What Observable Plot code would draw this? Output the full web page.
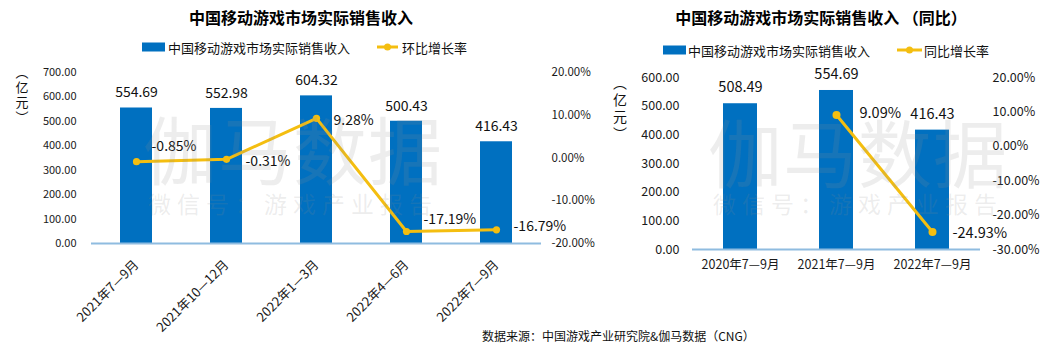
<!DOCTYPE html>
<html><head><meta charset="utf-8">
<script src="https://cdn.jsdelivr.net/npm/d3@7"></script>
<script src="https://cdn.jsdelivr.net/npm/@observablehq/plot@0.6"></script>
<style>
body{margin:0;background:#fff;font-family:"Noto Sans CJK SC","Noto Sans",sans-serif;color:#111;}
#root{position:relative;width:1058px;height:362px;overflow:hidden;}
.abs{position:absolute;white-space:nowrap;}
.title{font-weight:bold;font-size:16px;line-height:16px;transform:translate(-50%,-50%);color:#000;}
.lg{font-size:13px;line-height:13px;transform:translateY(-50%);}
.sw{position:absolute;background:#0070C0;height:9px;transform:translateY(-50%);}
.unit{text-align:center;transform:translate(-50%,0);white-space:pre;}
.wm{color:rgba(140,140,140,0.16);pointer-events:none;transform:translate(-50%,-50%);}
.wm1{font-size:74px;line-height:74px;letter-spacing:1px;}
.wm2{font-size:23px;line-height:23px;letter-spacing:6px;}
</style></head>
<body><div id="root"></div>
<script>
// ---- data ----
const categoriesQ = ["2021年7—9月","2021年10—12月","2022年1—3月","2022年4—6月","2022年7—9月"];
const revenueQ = [554.69, 552.98, 604.32, 500.43, 416.43];
const growthQoQ = [-0.85, -0.31, 9.28, -17.19, -16.79];
const revTicksQ = [0,100,200,300,400,500,600,700];
const pctTicksQ = [-20,-10,0,10,20];

const categoriesY = ["2020年7—9月","2021年7—9月","2022年7—9月"];
const revenueY = [508.49, 554.69, 416.43];
const growthYoY = [null, 9.09, -24.93];
const revTicksY = [0,100,200,300,400,500,600];
const pctTicksY = [-30,-20,-10,0,10,20];

const titleQ = "中国移动游戏市场实际销售收入";
const titleY = "中国移动游戏市场实际销售收入 （同比）";
const seriesBar = "中国移动游戏市场实际销售收入";
const seriesQoQ = "环比增长率";
const seriesYoY = "同比增长率";
const unitLabel = "（亿元）";
const source = "数据来源：中国游戏产业研究院&伽马数据（CNG）";
const wmMain = "伽马数据";
const wmSub = "微信号：游戏产业报告";

// ---- styles / layout (not data) ----
const BLUE = "#0070C0", GOLD = "#F4BE10", AXIS = "#8FBCE0";
const FONT = '"Noto Sans CJK SC","Noto Sans",sans-serif';
const qoqDx = [15, 19, 17, 17, 17], qoqDy = [-15, 2, 2, -12, -3];
const yoyDx = [0, 23, 20], yoyDy = [0, -2, 1];

const dataQ = categoriesQ.map((c,i)=>({cat:c, rev:revenueQ[i], g:growthQoQ[i]}));
const dataY = categoriesY.map((c,i)=>({cat:c, rev:revenueY[i], g:growthYoY[i]}));
const pctText = e => e.g == null ? "" : e.g.toFixed(2) + "%";

const root = document.getElementById("root");
function place(el, left, top){ el.style.position="absolute"; el.style.left=left+"px"; el.style.top=top+"px"; root.appendChild(el); return el; }
function div(cls, text){ const d=document.createElement("div"); d.className="abs "+cls; d.textContent=text; return d; }
const baseStyle = {background:"transparent", fontFamily:FONT, color:"#1a1a1a", overflow:"visible"};

// ---- left chart ----
const L = {width:600, height:340, marginLeft:91, marginRight:59, marginTop:72, marginBottom:97};
const xQ = {type:"band", domain:categoriesQ, paddingInner:0.644, paddingOuter:0.322, label:null};
const barsL = Plot.plot({
  ...L, style:{...baseStyle, fontSize:"11px"},
  x: xQ, y: {domain:[0,700], label:null},
  marks: [
    Plot.barY(dataQ, {x:"cat", y:"rev", fill:BLUE}),
    Plot.ruleY([0], {stroke:AXIS, strokeWidth:2}),
    Plot.axisY(revTicksQ, {anchor:"left", tickSize:0, tickPadding:15, tickFormat:d=>d.toFixed(2), fontSize:11, label:null}),
    Plot.axisX({anchor:"bottom", tickSize:0, tickPadding:19, tickRotate:-45, fontSize:13, label:null}),
    Plot.text(dataQ, {x:"cat", y:"rev", text:d=>d.rev.toFixed(2), dy:-15, fontSize:14, fill:"#111"})
  ]
});
const lineL = Plot.plot({
  ...L, style:{...baseStyle, fontSize:"11px"},
  x: {...xQ, axis:null}, y: {domain:[-20,20], label:null},
  marks: [
    Plot.axisY(pctTicksQ, {anchor:"right", tickSize:0, tickPadding:10, tickFormat:d=>d.toFixed(2)+"%", fontSize:11.5, label:null}),
    Plot.line(dataQ, {x:"cat", y:"g", stroke:GOLD, strokeWidth:3}),
    Plot.dot(dataQ, {x:"cat", y:"g", r:3.6, fill:GOLD}),
    ...dataQ.map((d,i)=>Plot.text(dataQ, {filter:(e,j)=>j===i, x:"cat", y:"g", text:pctText, textAnchor:"start", dx:qoqDx[i], dy:qoqDy[i], fontSize:14, fill:"#111"}))
  ]
});
place(barsL, 0, 0); place(lineL, 0, 0);

// ---- right chart ----
const R = {width:458, height:300, marginLeft:92, marginRight:78, marginTop:77, marginBottom:51};
const xY = {type:"band", domain:categoriesY, paddingInner:0.646, paddingOuter:0.323, label:null};
const barsR = Plot.plot({
  ...R, style:{...baseStyle, fontSize:"12px"},
  x: xY, y: {domain:[0,600], label:null},
  marks: [
    Plot.barY(dataY, {x:"cat", y:"rev", fill:BLUE}),
    Plot.ruleY([0], {stroke:AXIS, strokeWidth:2}),
    Plot.axisY(revTicksY, {anchor:"left", tickSize:0, tickPadding:13, tickFormat:d=>d.toFixed(2), fontSize:12.5, label:null}),
    Plot.axisX({anchor:"bottom", tickSize:0, tickPadding:11, fontSize:12.5, label:null}),
    Plot.text(dataY, {x:"cat", y:"rev", text:d=>d.rev.toFixed(2), dy:-16, fontSize:14.5, fill:"#111"})
  ]
});
const dataYg = dataY.filter(d=>d.g!=null);
const lineR = Plot.plot({
  ...R, style:{...baseStyle, fontSize:"12px"},
  x: {...xY, axis:null}, y: {domain:[-30,20], label:null},
  marks: [
    Plot.axisY(pctTicksY, {anchor:"right", tickSize:0, tickPadding:12, tickFormat:d=>d.toFixed(2)+"%", fontSize:12.5, label:null}),
    Plot.line(dataYg, {x:"cat", y:"g", stroke:GOLD, strokeWidth:3}),
    Plot.dot(dataYg, {x:"cat", y:"g", r:4, fill:GOLD}),
    ...dataYg.map((d,i)=>Plot.text(dataYg, {filter:(e,j)=>j===i, x:"cat", y:"g", text:pctText, textAnchor:"start", dx:yoyDx[i+1], dy:yoyDy[i+1], fontSize:14.5, fill:"#111"}))
  ]
});
place(barsR, 600, 0); place(lineR, 600, 0);

// ---- titles, legends, units, source ----
place(div("title", titleQ), 301, 17);
place(div("title", titleY), 821, 17);

function lineSwatch(w){
  const ns="http://www.w3.org/2000/svg";
  const s=document.createElementNS(ns,"svg"); s.setAttribute("width",w); s.setAttribute("height",10);
  s.style.transform="translateY(-50%)";
  const l=document.createElementNS(ns,"line"); l.setAttribute("x1",0); l.setAttribute("x2",w); l.setAttribute("y1",5); l.setAttribute("y2",5);
  l.setAttribute("stroke",GOLD); l.setAttribute("stroke-width",3); s.appendChild(l);
  const c=document.createElementNS(ns,"circle"); c.setAttribute("cx",w/2); c.setAttribute("cy",5); c.setAttribute("r",3.5); c.setAttribute("fill",GOLD); s.appendChild(c);
  return s;
}
function swatch(w){ const d=document.createElement("div"); d.className="sw"; d.style.width=w+"px"; return d; }
place(swatch(23), 142, 47); place(div("lg", seriesBar), 168, 47);
place(lineSwatch(21), 377, 47); place(div("lg", seriesQoQ), 402, 47);
place(swatch(23), 663, 50); place(div("lg", seriesBar), 688, 50);
place(lineSwatch(25), 897, 50); place(div("lg", seriesYoY), 924, 50);

// vertical unit label: stacked characters, brackets shown in their vertical forms
const unitVertical = Array.from(unitLabel).map(ch => ch === "（" ? "︵" : ch === "）" ? "︶" : ch).join("\n");
const u1 = div("unit", unitVertical); u1.style.fontSize="13px"; u1.style.lineHeight="15px"; place(u1, 22, 64);
const u2 = div("unit", unitVertical); u2.style.fontSize="14px"; u2.style.lineHeight="17px"; place(u2, 620, 74);

const src = div("", source); src.style.fontSize="12px"; src.style.lineHeight="12px"; src.style.transform="translateY(-50%)"; place(src, 482, 336);

// watermarks
place(div("wm wm1", wmMain), 293, 147); place(div("wm wm2", wmSub), 293, 203);
place(div("wm wm1", wmMain), 858, 150); place(div("wm wm2", wmSub), 858, 203);
</script></body></html>
